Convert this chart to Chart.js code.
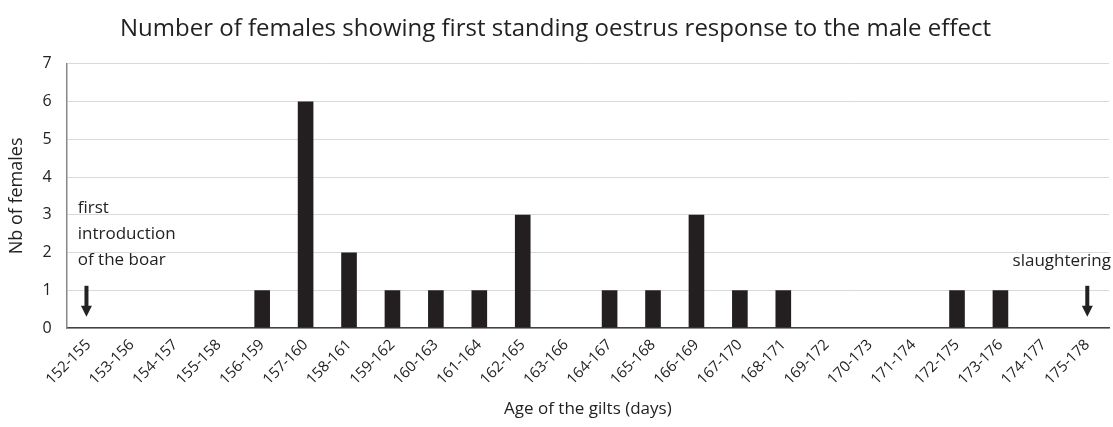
<!DOCTYPE html>
<html>
<head>
<meta charset="utf-8">
<script src="https://cdn.jsdelivr.net/npm/chart.js@4"></script>
<style>
  body { margin: 0; background: #fff; }
  #wrap { width: 1113px; height: 427px; }
</style>
</head>
<body>
<div id="wrap"><canvas id="byAge"></canvas></div>
<script>
const ageRanges = ["152-155", "153-156", "154-157", "155-158", "156-159", "157-160", "158-161",
  "159-162", "160-163", "161-164", "162-165", "163-166", "164-167", "165-168", "166-169",
  "167-170", "168-171", "169-172", "170-173", "171-174", "172-175", "173-176", "174-177", "175-178"];
const nbFemales = [0, 0, 0, 0, 1, 6, 2, 1, 1, 1, 3, 0, 1, 1, 3, 1, 1, 0, 0, 0, 1, 1, 0, 0];
const yTicks = [0, 1, 2, 3, 4, 5, 6, 7];
const startNote = ["first", "introduction", "of the boar"];
const endNote = ["slaughtering"];

const FONT = "Open Sans";

// arrows + notes
const notesPlugin = {
  id: "notes",
  afterDatasetsDraw(chart) {
    const ctx = chart.ctx;
    const x = chart.scales.x;
    const y = chart.scales.y;

    function arrow(px) {
      const top = y.getPixelForValue(1.12);
      const bottom = y.getPixelForValue(0.3);
      ctx.save();
      ctx.fillStyle = "#222";
      ctx.fillRect(px - 2, top, 4, bottom - top - 10);
      ctx.beginPath();
      ctx.moveTo(px - 5.5, bottom - 11);
      ctx.lineTo(px + 5.5, bottom - 11);
      ctx.lineTo(px, bottom);
      ctx.closePath();
      ctx.fill();
      ctx.restore();
    }

    arrow(x.getPixelForValue(0) - 2);
    arrow(x.getPixelForValue(ageRanges.length - 1));

    ctx.save();
    ctx.fillStyle = "#222";
    ctx.font = "17px '" + FONT + "'";
    ctx.textBaseline = "middle";
    ctx.textAlign = "left";
    startNote.forEach((line, i) => {
      ctx.fillText(line, chart.chartArea.left + 11, y.getPixelForValue(3.17 - i * 0.69));
    });
    ctx.textAlign = "right";
    endNote.forEach((line, i) => {
      ctx.fillText(line, chart.width - 2, y.getPixelForValue(1.76 - i * 0.69));
    });
    ctx.restore();
  }
};

new Chart(document.getElementById("byAge"), {
  type: "bar",
  data: {
    labels: ageRanges,
    datasets: [{
      label: "Nb of females",
      data: nbFemales,
      backgroundColor: "#231f20",
      barPercentage: 0.36,
      categoryPercentage: 1,
    }]
  },
  options: {
    responsive: true,
    maintainAspectRatio: false,
    animation: false,
    layout: { padding: { left: 2, right: 4, top: 5, bottom: 4 } },
    plugins: {
      legend: { display: false },
      tooltip: { enabled: false },
      title: {
        display: true,
        text: "Number of females showing first standing oestrus response to the male effect",
        color: "#222",
        font: { family: FONT, size: 24, weight: "normal" },
        padding: { top: 10, bottom: 20 },
      },
    },
    scales: {
      x: {
        grid: { display: false, drawTicks: false },
        border: { color: "#444", width: 1.5 },
        ticks: {
          color: "#222",
          font: { family: FONT, size: 15 },
          maxRotation: 45,
          minRotation: 45,
          padding: 8,
        },
        title: {
          display: true,
          text: "Age of the gilts (days)",
          color: "#222",
          font: { family: FONT, size: 17 },
          padding: { top: 2 },
        },
      },
      y: {
        min: 0,
        max: 7,
        afterBuildTicks: (axis) => { axis.ticks = yTicks.map(v => ({ value: v })); },
        grid: { color: "#d9d9d9", drawTicks: false },
        border: { color: "#888", width: 1.5 },
        ticks: {
          color: "#222",
          font: { family: FONT, size: 16 },
          padding: 15,
        },
        title: {
          display: true,
          text: "Nb of females",
          color: "#222",
          font: { family: FONT, size: 18 },
          padding: { bottom: 0 },
        },
      },
    },
  },
  plugins: [notesPlugin],
});
</script>
</body>
</html>
